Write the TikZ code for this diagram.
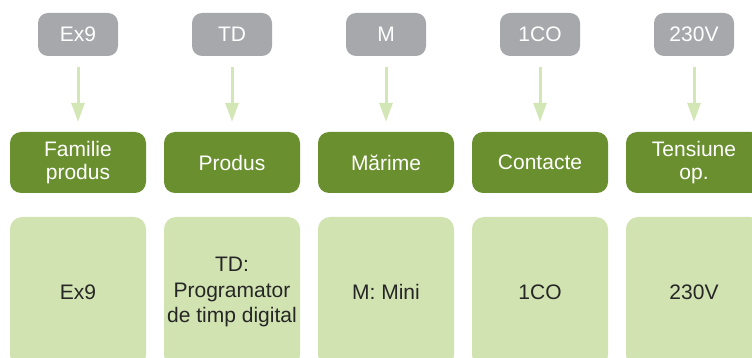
\documentclass[tikz,border=0pt]{standalone}
\usepackage{fontspec}
\setmainfont{Liberation Sans}
\usetikzlibrary{arrows.meta}
\definecolor{codegray}{HTML}{A7A8AB}
\definecolor{dkgreen}{HTML}{6A8F2F}
\definecolor{ltgreen}{HTML}{D1E3B1}
\definecolor{arrgreen}{HTML}{D3E6B6}
\definecolor{txtdark}{HTML}{262626}
\tikzset{
  codebox/.style={fill=codegray, rounded corners=10pt, minimum width=80pt, minimum height=43pt, text=white, font=\fontsize{21}{23}\selectfont, inner sep=0pt},
  catbox/.style={fill=dkgreen, rounded corners=11pt, minimum width=136pt, minimum height=61pt, text=white, font=\fontsize{21}{23}\selectfont, align=center, inner sep=0pt},
  valbox/.style={fill=ltgreen, rounded corners=12pt, minimum width=136pt, minimum height=150pt, text=txtdark, font=\fontsize{21}{25.5}\selectfont, align=center, inner sep=0pt},
  conn/.style={draw=arrgreen, line width=3pt, -{Triangle[length=19pt, width=13pt]}, shorten <=11pt, shorten >=10pt}
}
\begin{document}
\begin{tikzpicture}[x=1pt, y=-1pt]
\useasboundingbox (0,0) rectangle (752,358);
\clip (0,0) rectangle (752,358);
\foreach \i/\c/\k/\v [count=\n] in {78/Ex9/{Familie\\produs}/Ex9, 232/TD/Produs/{TD:\\Programator\\de timp digital}, 386/M/Mărime/M: Mini, 540/1CO/Contacte/1CO, 694/230V/{Tensiune\\op.}/230V}{
  \node[codebox] (c\n) at (\i,34.5) {\c};
  \node[catbox] (k\n) at (\i,162.5) {\k};
  \node[valbox] (v\n) at (\i,292) {\v};
  \draw[conn] (c\n) -- (k\n);
}
\end{tikzpicture}
\end{document}
